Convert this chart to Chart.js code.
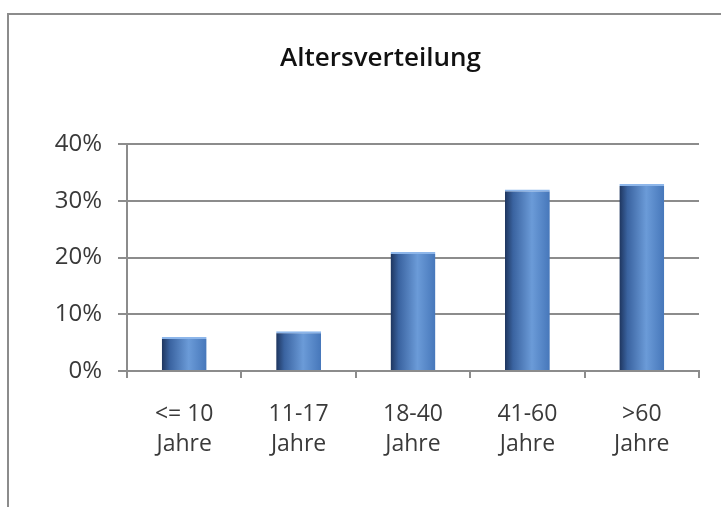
<!DOCTYPE html>
<html>
<head>
<meta charset="utf-8">
<script src="https://cdn.jsdelivr.net/npm/chart.js@4/dist/chart.umd.min.js"></script>
<style>
    html, body { margin: 0; padding: 0; background: #fff; }
    #wrap { position: relative; width: 721px; height: 507px; overflow: hidden; }
    #frame {
        position: absolute; left: 7px; top: 13px; right: -4px; bottom: -4px;
        border-left: 2px solid #8c8c8c;
        border-top: 2px solid #8c8c8c;
        pointer-events: none;
    }
    canvas { position: absolute; left: 0; top: 0; }
</style>
</head>
<body>
<div id="wrap">
    <canvas id="ageChart" width="721" height="507"></canvas>
    <div id="frame"></div>
</div>
<script>
// Altersgruppen und Anteile (in %)
const ageGroups = [['<= 10', 'Jahre'], ['11-17', 'Jahre'], ['18-40', 'Jahre'], ['41-60', 'Jahre'], ['>60', 'Jahre']];
const shares = [6, 7, 21, 32, 33];
const yTicks = [0, 10, 20, 30, 40];

const barPct = 0.49;
const catPct = 0.8;

// zylinderartiger Verlauf quer über jeden Balken
function barGradient(context) {
    const chart = context.chart;
    const xScale = chart.scales.x;
    if (!chart.chartArea || !xScale) return '#4a7cc0';
    const cx = xScale.getPixelForValue(context.dataIndex);
    const w = (chart.chartArea.right - chart.chartArea.left) / ageGroups.length * barPct * catPct;
    const g = chart.ctx.createLinearGradient(cx - w / 2, 0, cx + w / 2, 0);
    g.addColorStop(0, '#1e355e');
    g.addColorStop(0.18, '#3a63a0');
    g.addColorStop(0.6, '#6b9bd8');
    g.addColorStop(1, '#4677ba');
    return g;
}

// Titel etwas nach rechts, wie im Original
const titleShift = {
    id: 'titleShift',
    afterLayout(chart) {
        const t = chart.titleBlock;
        if (t) {
            t.left = 62;
            t.right = chart.chartArea.right;
        }
    }
};

const ctx = document.getElementById('ageChart');
new Chart(ctx, {
    type: 'bar',
    data: {
        labels: ageGroups,
        datasets: [{
            label: 'Anteil',
            data: shares,
            backgroundColor: barGradient,
            borderColor: '#8db6ea',
            borderWidth: { top: 2, left: 0, right: 0, bottom: 0 },
            borderSkipped: 'bottom',
            barPercentage: barPct,
            categoryPercentage: catPct
        }]
    },
    plugins: [titleShift],
    options: {
        responsive: false,
        animation: false,
        layout: {
            padding: { left: 0, right: 22, top: 0, bottom: 0 }
        },
        plugins: {
            legend: { display: false },
            tooltip: { enabled: false },
            title: {
                display: true,
                text: 'Altersverteilung',
                color: '#111',
                font: { family: 'Open Sans', size: 26, weight: '600', lineHeight: 1.2 },
                padding: { top: 43, bottom: 70 }
            }
        },
        scales: {
            x: {
                grid: {
                    drawOnChartArea: false,
                    drawTicks: true,
                    tickLength: 7,
                    color: '#8c8c8c',
                    lineWidth: 2
                },
                border: { color: '#8c8c8c', width: 2 },
                ticks: {
                    color: '#3a3a3a',
                    padding: 22,
                    font: { family: 'Open Sans', size: 23, lineHeight: 1.3 }
                },
                afterFit: function(scale) { scale.height = 136; }
            },
            y: {
                min: 0,
                max: 40,
                afterBuildTicks: function(scale) {
                    scale.ticks = yTicks.map(v => ({ value: v }));
                },
                grid: {
                    color: '#8c8c8c',
                    lineWidth: 2,
                    tickLength: 9
                },
                border: { color: '#8c8c8c', width: 2 },
                ticks: {
                    color: '#3a3a3a',
                    padding: 16,
                    font: { family: 'Open Sans', size: 24 },
                    callback: v => v + '%'
                },
                afterFit: function(scale) { scale.width = 127; }
            }
        }
    }
});
</script>
</body>
</html>
